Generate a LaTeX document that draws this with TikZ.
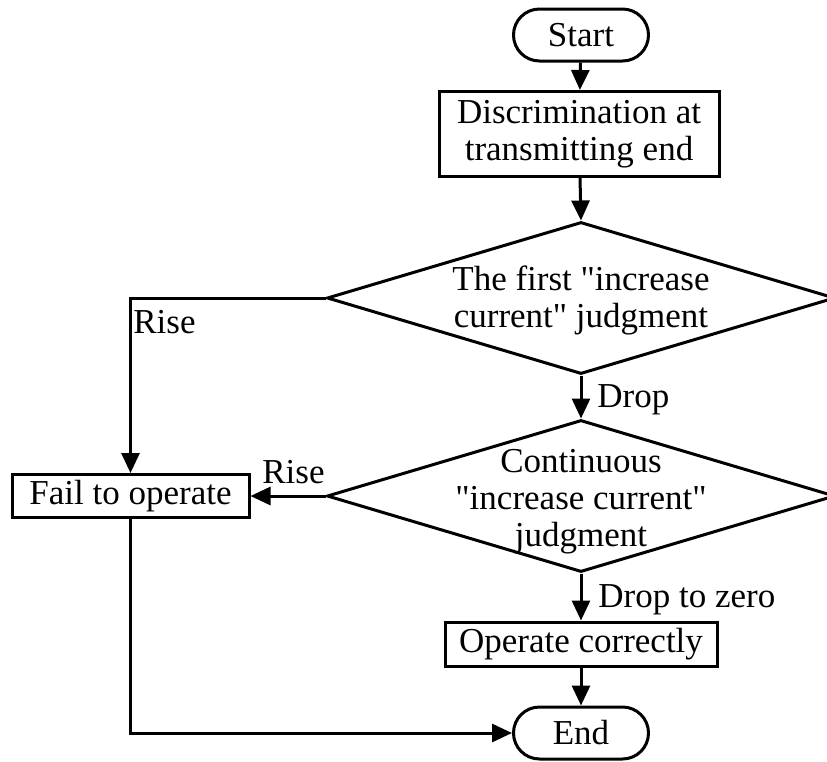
\documentclass[tikz,border=0pt]{standalone}
\usepackage{fontspec}
\setmainfont{Liberation Serif}[Ligatures=TeXOff]
\usetikzlibrary{shapes.geometric,arrows.meta}
\begin{document}
\begin{tikzpicture}[x=0.5pt,y=-0.5pt,
  every node/.style={font=\fontsize{17.5}{18.5}\selectfont},
  flow/.style={line width=1.5pt,-{Triangle[length=10pt,width=9pt]}},
  term/.style={draw,line width=1.5pt,rounded corners=13pt,minimum width=67.5pt,minimum height=26pt,inner sep=0pt},
  proc/.style={draw,line width=1.5pt,inner sep=0pt,align=center},
  dec/.style={draw,diamond,line width=1.5pt,minimum width=254pt,minimum height=76pt,inner sep=0pt},
  txt/.style={align=center,inner sep=0pt},
  lbl/.style={inner sep=0pt,anchor=base west}]
\useasboundingbox (0,0) rectangle (827,762);
\node[term] (start) at (581,35) {Start};
\node[proc,minimum width=140pt,minimum height=42.5pt] (disc) at (579,134) {Discrimination at\\transmitting end};
\node[dec] (d1) at (581,298) {};
\node[txt] (d1t) at (581,300) {The first "increase\\current" judgment};
\node[dec] (d2) at (581,496) {};
\node[txt] (d2t) at (581,502) {Continuous\\"increase current"\\judgment};
\node[proc,minimum width=118.5pt,minimum height=21.5pt] (fail) at (130.5,496) {Fail to operate};
\node[proc,minimum width=136pt,minimum height=22pt] (oper) at (581,644) {Operate correctly};
\node[term] (end) at (581,733) {End};
\draw[flow] (start) -- (disc);
\draw[flow] (disc) -- (d1.north);
\draw[flow] (d1.south) -- (d2.north);
\draw[flow] (d1.west) -| (fail.north);
\draw[flow] (d2.west) -- (fail.east);
\draw[flow] (d2.south) -- (oper.north);
\draw[flow] (oper) -- (end);
\draw[flow] (fail.south) |- (end.west);
\node[lbl] (l1) at (133,333) {Rise};
\node[lbl] (l2) at (262,483) {Rise};
\node[lbl] (l3) at (597,407) {Drop};
\node[lbl] (l4) at (598,607) {Drop to zero};
\end{tikzpicture}
\end{document}
